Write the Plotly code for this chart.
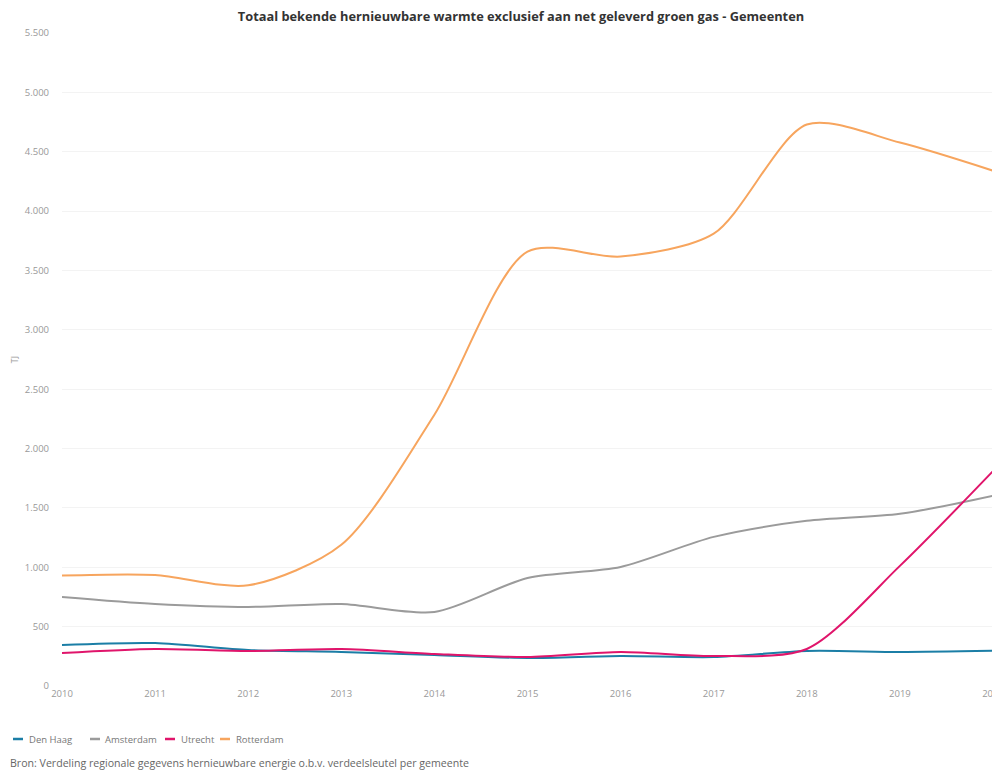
import plotly.graph_objects as go

years = [2010, 2011, 2012, 2013, 2014, 2015, 2016, 2017, 2018, 2019, 2020]
den_haag = [346, 362, 303, 287, 261, 236, 253, 244, 295, 287, 297]
amsterdam = [750, 691, 666, 691, 624, 910, 1003, 1256, 1391, 1450, 1602]
utrecht = [278, 312, 295, 312, 270, 244, 287, 253, 312, 1012, 1810]
rotterdam = [930, 935, 848, 1189, 2285, 3659, 3617, 3810, 4729, 4577, 4340]

names = ["Den Haag", "Amsterdam", "Utrecht", "Rotterdam"]
values = [den_haag, amsterdam, utrecht, rotterdam]
colors = ["#1b7ea6", "#9b9b9b", "#e0156b", "#f7a55e"]

# page body has an 8px default margin; figure sized to fit the window
OFF = 8
W, H = 992, 766
L, R, T, B = 54, 7, 25, 88
pw, ph = W - L - R, H - T - B

def px_x(px):  # page pixel -> paper x
    return (px - OFF - L) / pw

def px_y(py):  # page pixel -> paper y
    return (H - B - (py - OFF)) / ph

fig = go.Figure()
for name, vals, col in zip(names, values, colors):
    fig.add_trace(go.Scatter(
        x=years, y=vals, name=name, mode="lines",
        line=dict(color=col, width=2, shape="spline", smoothing=0.8),
    ))

fig.update_layout(
    width=W, height=H,
    paper_bgcolor="white", plot_bgcolor="white",
    separators=",.",
    font=dict(family="Open Sans, Lato, sans-serif", size=9, color="#999999"),
    title=dict(text="<b>Totaal bekende hernieuwbare warmte exclusief aan net geleverd groen gas - Gemeenten</b>",
               x=(521 - OFF) / W, xanchor="center",
               y=1 - (17 - OFF) / H, yanchor="middle",
               font=dict(size=12.8, color="#333333")),
    margin=dict(l=L, r=R, t=T, b=B, autoexpand=False),
    showlegend=False,
    xaxis=dict(range=[2010, 2020], tickvals=years, ticktext=[str(y) for y in years],
               showgrid=False, zeroline=False, showline=False, ticks="",
               automargin=False, ticklabeloverflow="allow",
               tickfont=dict(size=9.5, color="#999999")),
    yaxis=dict(range=[0, 5500], dtick=500, tickformat=",d",
               showgrid=True, gridcolor="#f3f3f3", gridwidth=1,
               zeroline=False, showline=False, ticks="",
               automargin=False, ticklabeloverflow="allow",
               ticklabelstandoff=12,
               tickfont=dict(size=9.5, color="#999999"),
               title=dict(text="TJ", font=dict(size=9, color="#999999"), standoff=7)),
)

# legend drawn as short line markers + labels
leg_line_x = [13, 90, 165, 220]
leg_text_x = [27, 103, 179, 234]
for name, col, lx, tx in zip(names, colors, leg_line_x, leg_text_x):
    fig.add_shape(type="line", xref="paper", yref="paper",
                  x0=px_x(lx), x1=px_x(lx + 10), y0=px_y(739), y1=px_y(739),
                  line=dict(color=col, width=2.5))
    fig.add_annotation(text=name, xref="paper", yref="paper",
                       x=px_x(tx), y=px_y(739), xanchor="left", yanchor="middle",
                       showarrow=False, font=dict(size=9.5, color="#777777"))

fig.add_annotation(
    text="Bron: Verdeling regionale gegevens hernieuwbare energie o.b.v. verdeelsleutel per gemeente",
    xref="paper", yref="paper", x=px_x(8), y=px_y(763), xanchor="left", yanchor="middle",
    showarrow=False, font=dict(size=10.6, color="#666666"),
)

fig.write_html("out.html")
